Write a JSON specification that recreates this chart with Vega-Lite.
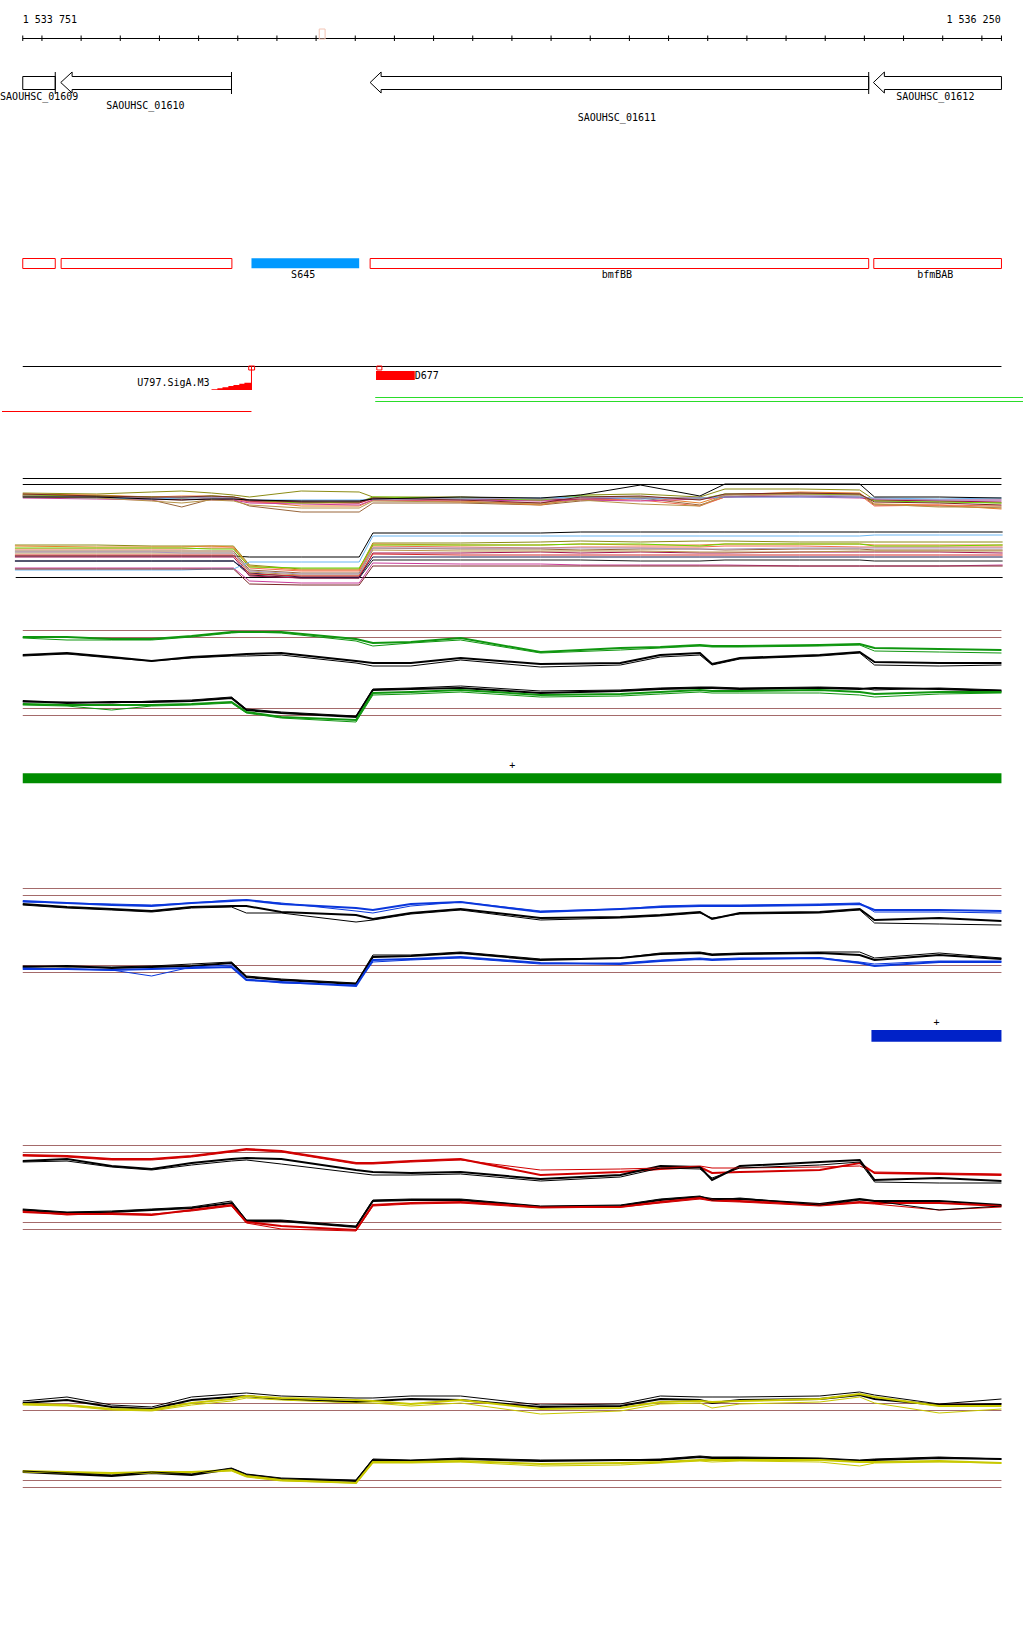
{
"$schema": "https://vega.github.io/schema/vega-lite/v6.json",
"width": 1024, "height": 1640,
"autosize": {"type": "fit", "contains": "padding"},
"padding": 0,
"background": "white",
"config": {"view": {"stroke": null}},
"encoding": {
 "x": {"field": "x", "type": "quantitative", "scale": {"domain": [1533698, 1536305], "nice": false, "zero": false}, "axis": null},
 "y": {"field": "y", "type": "quantitative", "scale": {"domain": [0, 1640], "reverse": true, "nice": false, "zero": false}, "axis": null}
},
"layer": [
{
 "data": {"values": [
  {"x":1533751,"x2":1536250,"y":38.5,"k":"axis"},
  {"x":1533751,"x2":1536250,"y":366.5,"k":"axis"},
  {"x":1533751,"x2":1536250,"y":478.5,"k":"axis"},
  {"x":1533751,"x2":1536250,"y":484.5,"k":"axis"},
  {"x":1533733,"x2":1536253,"y":577.5,"k":"axis"},
  {"x":1533698,"x2":1534335,"y":411.5,"k":"sig"},
  {"x":1534651,"x2":1536305,"y":397.5,"k":"term"},
  {"x":1534651,"x2":1536305,"y":401.5,"k":"term"},
  {"x":1533751,"x2":1536250,"y":630.5,"k":"thr"},
  {"x":1533751,"x2":1536250,"y":637.5,"k":"thr"},
  {"x":1533751,"x2":1536250,"y":708.5,"k":"thr"},
  {"x":1533751,"x2":1536250,"y":715.5,"k":"thr"},
  {"x":1533751,"x2":1536250,"y":888.5,"k":"thr"},
  {"x":1533751,"x2":1536250,"y":895.5,"k":"thr"},
  {"x":1533751,"x2":1536250,"y":965.5,"k":"thr"},
  {"x":1533751,"x2":1536250,"y":972.5,"k":"thr"},
  {"x":1533751,"x2":1536250,"y":1145.5,"k":"thr"},
  {"x":1533751,"x2":1536250,"y":1152.5,"k":"thr"},
  {"x":1533751,"x2":1536250,"y":1222.5,"k":"thr"},
  {"x":1533751,"x2":1536250,"y":1229.5,"k":"thr"},
  {"x":1533751,"x2":1536250,"y":1403.5,"k":"thr"},
  {"x":1533751,"x2":1536250,"y":1410.5,"k":"thr"},
  {"x":1533751,"x2":1536250,"y":1480.5,"k":"thr"},
  {"x":1533751,"x2":1536250,"y":1487.5,"k":"thr"}
 ]},
 "mark": {"type": "rule", "strokeWidth": 1},
 "encoding": {
  "x2": {"field": "x2"},
  "stroke": {"field": "k", "type": "nominal", "scale": {"domain": ["axis","thr","sig","term","feat","cur"], "range": ["#000000","#A46A6A","#FF0000","#2ADC2A","#FF0000","#F2C4B4"]}, "legend": null}
 }
},
{
 "data": {"values": "x,y,y2,k\n1533751,35.5,41,axis\n1533800,35.5,41,axis\n1533900,35.5,41,axis\n1534000,35.5,41,axis\n1534100,35.5,41,axis\n1534200,35.5,41,axis\n1534300,35.5,41,axis\n1534400,35.5,41,axis\n1534500,35.5,41,axis\n1534600,35.5,41,axis\n1534700,35.5,41,axis\n1534800,35.5,41,axis\n1534900,35.5,41,axis\n1535000,35.5,41,axis\n1535100,35.5,41,axis\n1535200,35.5,41,axis\n1535300,35.5,41,axis\n1535400,35.5,41,axis\n1535500,35.5,41,axis\n1535600,35.5,41,axis\n1535700,35.5,41,axis\n1535800,35.5,41,axis\n1535900,35.5,41,axis\n1536000,35.5,41,axis\n1536100,35.5,41,axis\n1536200,35.5,41,axis\n1536250,35.5,41,axis\n1533834,72,94,axis\n1534284,72,94,axis\n1535911,72,94,axis\n1534335,366,390,sig", "format": {"type": "csv", "parse": {"x": "number", "y": "number", "y2": "number"}}},
 "mark": {"type": "rule", "strokeWidth": 1},
 "encoding": {
  "y2": {"field": "y2"},
  "stroke": {"field": "k", "type": "nominal", "scale": {"domain": ["axis","thr","sig","term","feat","cur"], "range": ["#000000","#A46A6A","#FF0000","#2ADC2A","#FF0000","#F2C4B4"]}, "legend": null}
 }
},
{
 "data": {"values": "n,o,x,y\nSAOUHSC_01609,0,1533751,76.5\nSAOUHSC_01609,1,1533834,76.5\nSAOUHSC_01609,2,1533834,89.5\nSAOUHSC_01609,3,1533751,89.5\nSAOUHSC_01609,4,1533751,76.5\nSAOUHSC_01610,0,1533848,82.5\nSAOUHSC_01610,1,1533877,72\nSAOUHSC_01610,2,1533877,76.5\nSAOUHSC_01610,3,1534284,76.5\nSAOUHSC_01610,4,1534284,89.5\nSAOUHSC_01610,5,1533877,89.5\nSAOUHSC_01610,6,1533877,93\nSAOUHSC_01610,7,1533848,82.5\nSAOUHSC_01611,0,1534638,82.5\nSAOUHSC_01611,1,1534666,72\nSAOUHSC_01611,2,1534666,76.5\nSAOUHSC_01611,3,1535911,76.5\nSAOUHSC_01611,4,1535911,89.5\nSAOUHSC_01611,5,1534666,89.5\nSAOUHSC_01611,6,1534666,93\nSAOUHSC_01611,7,1534638,82.5\nSAOUHSC_01612,0,1535923,82.5\nSAOUHSC_01612,1,1535951,72\nSAOUHSC_01612,2,1535951,76.5\nSAOUHSC_01612,3,1536250,76.5\nSAOUHSC_01612,4,1536250,89.5\nSAOUHSC_01612,5,1535951,89.5\nSAOUHSC_01612,6,1535951,93\nSAOUHSC_01612,7,1535923,82.5", "format": {"type": "csv", "parse": {"o": "number", "x": "number", "y": "number"}}},
 "mark": {"type": "line", "color": "#000000", "strokeWidth": 1},
 "encoding": {"detail": {"field": "n"}, "order": {"field": "o", "type": "quantitative"}}
},
{
 "data": {"values": "s,g,x,y\nu,m1,1533751,493\nu,m1,1533940,494\nu,m1,1534080,492\nu,m1,1534157,491\nu,m1,1534233,493\nu,m1,1534289,495\nu,m1,1534330,497\nu,m1,1534462,491\nu,m1,1534610,492\nu,m1,1534645,497\nu,m1,1534869,497\nu,m1,1535073,499\nu,m1,1535175,495\nu,m1,1535328,494\nu,m1,1535480,497\nu,m1,1535544,489\nu,m1,1535735,489\nu,m1,1535888,490\nu,m1,1535926,500\nu,m1,1536091,501\nu,m1,1536250,503\nu,m2,1533751,495\nu,m2,1533940,496\nu,m2,1534080,500\nu,m2,1534157,507\nu,m2,1534233,499\nu,m2,1534289,500\nu,m2,1534330,506\nu,m2,1534462,512\nu,m2,1534610,512\nu,m2,1534645,503\nu,m2,1534869,503\nu,m2,1535073,505\nu,m2,1535175,501\nu,m2,1535328,498\nu,m2,1535480,505\nu,m2,1535544,497\nu,m2,1535735,493\nu,m2,1535888,494\nu,m2,1535926,505\nu,m2,1536091,506\nu,m2,1536250,508\nu,m3,1533751,494\nu,m3,1533940,495\nu,m3,1534080,497\nu,m3,1534157,496\nu,m3,1534233,496\nu,m3,1534289,497\nu,m3,1534330,501\nu,m3,1534462,506\nu,m3,1534610,506\nu,m3,1534645,500\nu,m3,1534869,501\nu,m3,1535073,505\nu,m3,1535175,498\nu,m3,1535328,497\nu,m3,1535480,503\nu,m3,1535544,495\nu,m3,1535735,492\nu,m3,1535888,493\nu,m3,1535926,504\nu,m3,1536091,505\nu,m3,1536250,509\nu,m4,1533751,496\nu,m4,1533940,497\nu,m4,1534080,499\nu,m4,1534157,500\nu,m4,1534233,498\nu,m4,1534289,499\nu,m4,1534330,502\nu,m4,1534462,503\nu,m4,1534610,503\nu,m4,1534645,499\nu,m4,1534869,502\nu,m4,1535073,503\nu,m4,1535175,499\nu,m4,1535328,500\nu,m4,1535480,506\nu,m4,1535544,497\nu,m4,1535735,494\nu,m4,1535888,495\nu,m4,1535926,506\nu,m4,1536091,505\nu,m4,1536250,506\nu,m5,1533751,498\nu,m5,1533940,499\nu,m5,1534080,500\nu,m5,1534157,499\nu,m5,1534233,500\nu,m5,1534289,500\nu,m5,1534330,503\nu,m5,1534462,504\nu,m5,1534610,505\nu,m5,1534645,500\nu,m5,1534869,500\nu,m5,1535073,501\nu,m5,1535175,500\nu,m5,1535328,501\nu,m5,1535480,499\nu,m5,1535544,497\nu,m5,1535735,497\nu,m5,1535888,498\nu,m5,1535926,499\nu,m5,1536091,500\nu,m5,1536250,500\nu,m6,1533751,496\nu,m6,1533940,497\nu,m6,1534080,498\nu,m6,1534157,498\nu,m6,1534233,497\nu,m6,1534289,498\nu,m6,1534330,501\nu,m6,1534462,502\nu,m6,1534610,503\nu,m6,1534645,498\nu,m6,1534869,499\nu,m6,1535073,500\nu,m6,1535175,499\nu,m6,1535328,498\nu,m6,1535480,498\nu,m6,1535544,497\nu,m6,1535735,496\nu,m6,1535888,497\nu,m6,1535926,500\nu,m6,1536091,501\nu,m6,1536250,502\nu,m7,1533751,495\nu,m7,1533940,496\nu,m7,1534080,497\nu,m7,1534157,498\nu,m7,1534233,496\nu,m7,1534289,497\nu,m7,1534330,500\nu,m7,1534462,503\nu,m7,1534610,502\nu,m7,1534645,497\nu,m7,1534869,498\nu,m7,1535073,500\nu,m7,1535175,496\nu,m7,1535328,497\nu,m7,1535480,499\nu,m7,1535544,494\nu,m7,1535735,494\nu,m7,1535888,495\nu,m7,1535926,501\nu,m7,1536091,502\nu,m7,1536250,503\nu,m8,1533751,497\nu,m8,1533940,498\nu,m8,1534080,499\nu,m8,1534157,498\nu,m8,1534233,498\nu,m8,1534289,498\nu,m8,1534330,500\nu,m8,1534462,500\nu,m8,1534610,500\nu,m8,1534645,499\nu,m8,1534869,499\nu,m8,1535073,498\nu,m8,1535175,497\nu,m8,1535328,499\nu,m8,1535480,498\nu,m8,1535544,497\nu,m8,1535735,497\nu,m8,1535888,497\nu,m8,1535926,498\nu,m8,1536091,499\nu,m8,1536250,498\nu,m9,1533751,496\nu,m9,1533940,497\nu,m9,1534080,498\nu,m9,1534157,497\nu,m9,1534233,497\nu,m9,1534289,498\nu,m9,1534330,500\nu,m9,1534462,501\nu,m9,1534610,501\nu,m9,1534645,499\nu,m9,1534869,498\nu,m9,1535073,499\nu,m9,1535175,498\nu,m9,1535328,497\nu,m9,1535480,499\nu,m9,1535544,495\nu,m9,1535735,495\nu,m9,1535888,496\nu,m9,1535926,499\nu,m9,1536091,500\nu,m9,1536250,500\nu,m10,1533751,497\nu,m10,1533940,498\nu,m10,1534080,501\nu,m10,1534157,503\nu,m10,1534233,500\nu,m10,1534289,501\nu,m10,1534330,505\nu,m10,1534462,508\nu,m10,1534610,508\nu,m10,1534645,501\nu,m10,1534869,502\nu,m10,1535073,504\nu,m10,1535175,500\nu,m10,1535328,504\nu,m10,1535480,506\nu,m10,1535544,495\nu,m10,1535735,494\nu,m10,1535888,494\nu,m10,1535926,504\nu,m10,1536091,507\nu,m10,1536250,507\nu,m11,1533751,494\nu,m11,1533940,496\nu,m11,1534080,497\nu,m11,1534157,497\nu,m11,1534233,496\nu,m11,1534289,497\nu,m11,1534330,500\nu,m11,1534462,502\nu,m11,1534610,502\nu,m11,1534645,498\nu,m11,1534869,500\nu,m11,1535073,503\nu,m11,1535175,497\nu,m11,1535328,496\nu,m11,1535480,500\nu,m11,1535544,494\nu,m11,1535735,493\nu,m11,1535888,494\nu,m11,1535926,502\nu,m11,1536091,503\nu,m11,1536250,505\nu,m12,1533751,497\nu,m12,1533940,497\nu,m12,1534080,499\nu,m12,1534157,500\nu,m12,1534233,499\nu,m12,1534289,499\nu,m12,1534330,500\nu,m12,1534462,501\nu,m12,1534610,501\nu,m12,1534645,499\nu,m12,1534869,497\nu,m12,1535073,498\nu,m12,1535175,495\nu,m12,1535328,485\nu,m12,1535480,496\nu,m12,1535544,484\nu,m12,1535735,484\nu,m12,1535888,484\nu,m12,1535926,497\nu,m12,1536091,497\nu,m12,1536250,498\nl,m12,1533731,556\nl,m12,1533940,556\nl,m12,1534080,556\nl,m12,1534157,556\nl,m12,1534233,556\nl,m12,1534289,556\nl,m12,1534330,557\nl,m12,1534462,557\nl,m12,1534610,557\nl,m12,1534645,533\nl,m12,1534869,533\nl,m12,1535073,533\nl,m12,1535175,532\nl,m12,1535328,532\nl,m12,1535480,532\nl,m12,1535544,532\nl,m12,1535735,532\nl,m12,1535888,532\nl,m12,1535926,532\nl,m12,1536091,532\nl,m12,1536253,532\nl,m13,1533731,561\nl,m13,1533940,561\nl,m13,1534080,561\nl,m13,1534157,561\nl,m13,1534233,561\nl,m13,1534289,561\nl,m13,1534330,575\nl,m13,1534462,578\nl,m13,1534610,578\nl,m13,1534645,560\nl,m13,1534869,560\nl,m13,1535073,560\nl,m13,1535175,560\nl,m13,1535328,561\nl,m13,1535480,561\nl,m13,1535544,560\nl,m13,1535735,560\nl,m13,1535888,560\nl,m13,1535926,561\nl,m13,1536091,561\nl,m13,1536253,561\nl,m1,1533731,545\nl,m1,1533940,545\nl,m1,1534080,546\nl,m1,1534157,546\nl,m1,1534233,546\nl,m1,1534289,546\nl,m1,1534330,565\nl,m1,1534462,569\nl,m1,1534610,569\nl,m1,1534645,543\nl,m1,1534869,543\nl,m1,1535073,542\nl,m1,1535175,541\nl,m1,1535328,542\nl,m1,1535480,541\nl,m1,1535544,541\nl,m1,1535735,542\nl,m1,1535888,542\nl,m1,1535926,542\nl,m1,1536091,542\nl,m1,1536253,542\nl,m3,1533731,546\nl,m3,1533940,547\nl,m3,1534080,547\nl,m3,1534157,547\nl,m3,1534233,546\nl,m3,1534289,547\nl,m3,1534330,566\nl,m3,1534462,570\nl,m3,1534610,570\nl,m3,1534645,544\nl,m3,1534869,545\nl,m3,1535073,545\nl,m3,1535175,544\nl,m3,1535328,545\nl,m3,1535480,545\nl,m3,1535544,544\nl,m3,1535735,544\nl,m3,1535888,544\nl,m3,1535926,545\nl,m3,1536091,545\nl,m3,1536253,545\nl,m4,1533731,549\nl,m4,1533940,549\nl,m4,1534080,549\nl,m4,1534157,549\nl,m4,1534233,548\nl,m4,1534289,548\nl,m4,1534330,568\nl,m4,1534462,571\nl,m4,1534610,571\nl,m4,1534645,546\nl,m4,1534869,547\nl,m4,1535073,548\nl,m4,1535175,547\nl,m4,1535328,547\nl,m4,1535480,547\nl,m4,1535544,546\nl,m4,1535735,546\nl,m4,1535888,547\nl,m4,1535926,547\nl,m4,1536091,547\nl,m4,1536253,547\nl,m2,1533731,551\nl,m2,1533940,551\nl,m2,1534080,551\nl,m2,1534157,551\nl,m2,1534233,551\nl,m2,1534289,551\nl,m2,1534330,570\nl,m2,1534462,573\nl,m2,1534610,573\nl,m2,1534645,548\nl,m2,1534869,549\nl,m2,1535073,549\nl,m2,1535175,550\nl,m2,1535328,549\nl,m2,1535480,549\nl,m2,1535544,550\nl,m2,1535735,549\nl,m2,1535888,549\nl,m2,1535926,550\nl,m2,1536091,550\nl,m2,1536253,550\nl,m7,1533731,548\nl,m7,1533940,548\nl,m7,1534080,548\nl,m7,1534157,548\nl,m7,1534233,549\nl,m7,1534289,549\nl,m7,1534330,567\nl,m7,1534462,568\nl,m7,1534610,568\nl,m7,1534645,545\nl,m7,1534869,545\nl,m7,1535073,545\nl,m7,1535175,544\nl,m7,1535328,544\nl,m7,1535480,546\nl,m7,1535544,544\nl,m7,1535735,544\nl,m7,1535888,544\nl,m7,1535926,546\nl,m7,1536091,546\nl,m7,1536253,545\nl,m6,1533731,557\nl,m6,1533940,557\nl,m6,1534080,557\nl,m6,1534157,557\nl,m6,1534233,557\nl,m6,1534289,557\nl,m6,1534330,576\nl,m6,1534462,578\nl,m6,1534610,578\nl,m6,1534645,553\nl,m6,1534869,553\nl,m6,1535073,552\nl,m6,1535175,553\nl,m6,1535328,552\nl,m6,1535480,553\nl,m6,1535544,553\nl,m6,1535735,552\nl,m6,1535888,552\nl,m6,1535926,552\nl,m6,1536091,552\nl,m6,1536253,553\nl,m5,1533731,568\nl,m5,1533940,568\nl,m5,1534080,568\nl,m5,1534157,568\nl,m5,1534233,568\nl,m5,1534289,568\nl,m5,1534330,581\nl,m5,1534462,583\nl,m5,1534610,583\nl,m5,1534645,563\nl,m5,1534869,564\nl,m5,1535073,564\nl,m5,1535175,565\nl,m5,1535328,565\nl,m5,1535480,565\nl,m5,1535544,565\nl,m5,1535735,566\nl,m5,1535888,566\nl,m5,1535926,566\nl,m5,1536091,566\nl,m5,1536253,565\nl,m8,1533731,570\nl,m8,1533940,570\nl,m8,1534080,570\nl,m8,1534157,570\nl,m8,1534233,569\nl,m8,1534289,569\nl,m8,1534330,562\nl,m8,1534462,562\nl,m8,1534610,562\nl,m8,1534645,536\nl,m8,1534869,536\nl,m8,1535073,536\nl,m8,1535175,536\nl,m8,1535328,536\nl,m8,1535480,536\nl,m8,1535544,536\nl,m8,1535735,536\nl,m8,1535888,536\nl,m8,1535926,535\nl,m8,1536091,535\nl,m8,1536253,535\nl,m14,1533731,561\nl,m14,1533940,561\nl,m14,1534080,561\nl,m14,1534157,561\nl,m14,1534233,561\nl,m14,1534289,561\nl,m14,1534330,573\nl,m14,1534462,577\nl,m14,1534610,577\nl,m14,1534645,557\nl,m14,1534869,557\nl,m14,1535073,557\nl,m14,1535175,557\nl,m14,1535328,557\nl,m14,1535480,557\nl,m14,1535544,557\nl,m14,1535735,557\nl,m14,1535888,557\nl,m14,1535926,557\nl,m14,1536091,557\nl,m14,1536253,557\nl,m10,1533731,553\nl,m10,1533940,553\nl,m10,1534080,553\nl,m10,1534157,553\nl,m10,1534233,553\nl,m10,1534289,553\nl,m10,1534330,572\nl,m10,1534462,575\nl,m10,1534610,575\nl,m10,1534645,550\nl,m10,1534869,551\nl,m10,1535073,551\nl,m10,1535175,551\nl,m10,1535328,551\nl,m10,1535480,552\nl,m10,1535544,552\nl,m10,1535735,552\nl,m10,1535888,551\nl,m10,1535926,551\nl,m10,1536091,551\nl,m10,1536253,551\nl,m15,1533731,555\nl,m15,1533940,555\nl,m15,1534080,555\nl,m15,1534157,555\nl,m15,1534233,555\nl,m15,1534289,555\nl,m15,1534330,574\nl,m15,1534462,576\nl,m15,1534610,576\nl,m15,1534645,554\nl,m15,1534869,555\nl,m15,1535073,555\nl,m15,1535175,555\nl,m15,1535328,555\nl,m15,1535480,555\nl,m15,1535544,555\nl,m15,1535735,555\nl,m15,1535888,555\nl,m15,1535926,555\nl,m15,1536091,555\nl,m15,1536253,555\nl,m9,1533731,552\nl,m9,1533940,552\nl,m9,1534080,552\nl,m9,1534157,553\nl,m9,1534233,553\nl,m9,1534289,553\nl,m9,1534330,571\nl,m9,1534462,574\nl,m9,1534610,574\nl,m9,1534645,548\nl,m9,1534869,548\nl,m9,1535073,548\nl,m9,1535175,548\nl,m9,1535328,548\nl,m9,1535480,549\nl,m9,1535544,549\nl,m9,1535735,548\nl,m9,1535888,548\nl,m9,1535926,548\nl,m9,1536091,548\nl,m9,1536253,548\nl,m11,1533731,569\nl,m11,1533940,569\nl,m11,1534080,569\nl,m11,1534157,569\nl,m11,1534233,569\nl,m11,1534289,569\nl,m11,1534330,584\nl,m11,1534462,585\nl,m11,1534610,585\nl,m11,1534645,566\nl,m11,1534869,566\nl,m11,1535073,566\nl,m11,1535175,566\nl,m11,1535328,566\nl,m11,1535480,566\nl,m11,1535544,566\nl,m11,1535735,566\nl,m11,1535888,566\nl,m11,1535926,566\nl,m11,1536091,566\nl,m11,1536253,566", "format": {"type": "csv", "parse": {"x": "number", "y": "number"}}},
 "mark": {"type": "line", "strokeWidth": 1},
 "encoding": {
  "detail": {"field": "s"},
  "color": {"field": "g", "type": "nominal", "scale": {"domain": ["m1","m2","m3","m4","m5","m6","m7","m8","m9","m10","m11","m12","m13","m14","m15","ref","A","B","C","D"], "range": ["#8C8C14","#99663A","#E8802A","#F26B4F","#C83C9A","#A0104E","#6CD400","#6AB6F2","#A898C0","#B89448","#7A2626","#000000","#1E1E1E","#1A1A50","#D82828","#000000","#0F960F","#0A37DC","#D00000","#C8C800"]}, "legend": null}
 }
},
{
 "data": {"values": "s,g,r,x,y\nAu,A,1,1533751,637\nAu,A,1,1533864,637\nAu,A,1,1533978,639\nAu,A,1,1534080,639\nAu,A,1,1534182,636\nAu,A,1,1534284,632\nAu,A,1,1534322,632\nAu,A,1,1534411,632\nAu,A,1,1534602,639\nAu,A,1,1534645,643\nAu,A,1,1534742,642\nAu,A,1,1534869,638\nAu,A,1,1535073,652\nAu,A,1,1535277,648\nAu,A,1,1535379,647\nAu,A,1,1535480,645\nAu,A,1,1535511,646\nAu,A,1,1535582,646\nAu,A,1,1535786,645\nAu,A,1,1535888,644\nAu,A,1,1535926,648\nAu,A,1,1536091,649\nAu,A,1,1536250,650\nAu,ref,1,1533751,655\nAu,ref,1,1533864,653\nAu,ref,1,1533978,657\nAu,ref,1,1534080,661\nAu,ref,1,1534182,657\nAu,ref,1,1534284,655\nAu,ref,1,1534322,654\nAu,ref,1,1534411,653\nAu,ref,1,1534602,661\nAu,ref,1,1534645,663\nAu,ref,1,1534742,663\nAu,ref,1,1534869,658\nAu,ref,1,1535073,664\nAu,ref,1,1535277,663\nAu,ref,1,1535379,655\nAu,ref,1,1535480,653\nAu,ref,1,1535511,664\nAu,ref,1,1535582,658\nAu,ref,1,1535786,655\nAu,ref,1,1535888,652\nAu,ref,1,1535926,662\nAu,ref,1,1536091,663\nAu,ref,1,1536250,663\nAl,ref,1,1533751,701\nAl,ref,1,1533864,703\nAl,ref,1,1533978,702\nAl,ref,1,1534080,702\nAl,ref,1,1534182,701\nAl,ref,1,1534284,698\nAl,ref,1,1534322,710\nAl,ref,1,1534411,713\nAl,ref,1,1534602,717\nAl,ref,1,1534645,690\nAl,ref,1,1534742,689\nAl,ref,1,1534869,688\nAl,ref,1,1535073,693\nAl,ref,1,1535277,691\nAl,ref,1,1535379,689\nAl,ref,1,1535480,688\nAl,ref,1,1535511,688\nAl,ref,1,1535582,689\nAl,ref,1,1535786,688\nAl,ref,1,1535888,689\nAl,ref,1,1535926,688\nAl,ref,1,1536091,689\nAl,ref,1,1536250,691\nAl,A,1,1533751,704\nAl,A,1,1533864,705\nAl,A,1,1533978,705\nAl,A,1,1534080,705\nAl,A,1,1534182,704\nAl,A,1,1534284,702\nAl,A,1,1534322,712\nAl,A,1,1534411,717\nAl,A,1,1534602,720\nAl,A,1,1534645,693\nAl,A,1,1534742,692\nAl,A,1,1534869,690\nAl,A,1,1535073,695\nAl,A,1,1535277,694\nAl,A,1,1535379,692\nAl,A,1,1535480,690\nAl,A,1,1535511,691\nAl,A,1,1535582,691\nAl,A,1,1535786,690\nAl,A,1,1535888,692\nAl,A,1,1535926,694\nAl,A,1,1536091,692\nAl,A,1,1536250,692\nAu,A,2,1533751,638\nAu,A,2,1533864,640\nAu,A,2,1533978,640\nAu,A,2,1534080,640\nAu,A,2,1534182,637\nAu,A,2,1534284,633\nAu,A,2,1534322,632\nAu,A,2,1534411,633\nAu,A,2,1534602,641\nAu,A,2,1534645,646\nAu,A,2,1534742,643\nAu,A,2,1534869,640\nAu,A,2,1535073,653\nAu,A,2,1535277,650\nAu,A,2,1535379,648\nAu,A,2,1535480,646\nAu,A,2,1535511,647\nAu,A,2,1535582,647\nAu,A,2,1535786,646\nAu,A,2,1535888,645\nAu,A,2,1535926,651\nAu,A,2,1536091,652\nAu,A,2,1536250,653\nAu,ref,2,1533751,656\nAu,ref,2,1533864,654\nAu,ref,2,1533978,658\nAu,ref,2,1534080,661\nAu,ref,2,1534182,658\nAu,ref,2,1534284,656\nAu,ref,2,1534322,656\nAu,ref,2,1534411,655\nAu,ref,2,1534602,663\nAu,ref,2,1534645,666\nAu,ref,2,1534742,666\nAu,ref,2,1534869,660\nAu,ref,2,1535073,667\nAu,ref,2,1535277,665\nAu,ref,2,1535379,657\nAu,ref,2,1535480,655\nAu,ref,2,1535511,665\nAu,ref,2,1535582,659\nAu,ref,2,1535786,656\nAu,ref,2,1535888,653\nAu,ref,2,1535926,665\nAu,ref,2,1536091,666\nAu,ref,2,1536250,665\nAl,A,2,1533751,705\nAl,A,2,1533864,706\nAl,A,2,1533978,710\nAl,A,2,1534080,706\nAl,A,2,1534182,705\nAl,A,2,1534284,703\nAl,A,2,1534322,713\nAl,A,2,1534411,718\nAl,A,2,1534602,722\nAl,A,2,1534645,695\nAl,A,2,1534742,694\nAl,A,2,1534869,692\nAl,A,2,1535073,697\nAl,A,2,1535277,696\nAl,A,2,1535379,694\nAl,A,2,1535480,692\nAl,A,2,1535511,693\nAl,A,2,1535582,693\nAl,A,2,1535786,693\nAl,A,2,1535888,695\nAl,A,2,1535926,697\nAl,A,2,1536091,694\nAl,A,2,1536250,693\nAl,ref,2,1533751,702\nAl,ref,2,1533864,702\nAl,ref,2,1533978,703\nAl,ref,2,1534080,701\nAl,ref,2,1534182,700\nAl,ref,2,1534284,697\nAl,ref,2,1534322,709\nAl,ref,2,1534411,712\nAl,ref,2,1534602,716\nAl,ref,2,1534645,689\nAl,ref,2,1534742,688\nAl,ref,2,1534869,686\nAl,ref,2,1535073,691\nAl,ref,2,1535277,690\nAl,ref,2,1535379,688\nAl,ref,2,1535480,687\nAl,ref,2,1535511,687\nAl,ref,2,1535582,688\nAl,ref,2,1535786,687\nAl,ref,2,1535888,688\nAl,ref,2,1535926,690\nAl,ref,2,1536091,688\nAl,ref,2,1536250,690\nBu,B,1,1533751,901\nBu,B,1,1533864,903\nBu,B,1,1533978,905\nBu,B,1,1534080,906\nBu,B,1,1534182,903\nBu,B,1,1534284,901\nBu,B,1,1534322,900\nBu,B,1,1534411,904\nBu,B,1,1534602,908\nBu,B,1,1534645,910\nBu,B,1,1534742,904\nBu,B,1,1534869,902\nBu,B,1,1535073,912\nBu,B,1,1535277,909\nBu,B,1,1535379,907\nBu,B,1,1535480,906\nBu,B,1,1535511,906\nBu,B,1,1535582,906\nBu,B,1,1535786,905\nBu,B,1,1535888,904\nBu,B,1,1535926,910\nBu,B,1,1536091,910\nBu,B,1,1536250,911\nBu,ref,1,1533751,904\nBu,ref,1,1533864,907\nBu,ref,1,1533978,909\nBu,ref,1,1534080,911\nBu,ref,1,1534182,907\nBu,ref,1,1534284,906\nBu,ref,1,1534322,906\nBu,ref,1,1534411,912\nBu,ref,1,1534602,915\nBu,ref,1,1534645,919\nBu,ref,1,1534742,913\nBu,ref,1,1534869,909\nBu,ref,1,1535073,918\nBu,ref,1,1535277,917\nBu,ref,1,1535379,915\nBu,ref,1,1535480,912\nBu,ref,1,1535511,919\nBu,ref,1,1535582,913\nBu,ref,1,1535786,912\nBu,ref,1,1535888,909\nBu,ref,1,1535926,920\nBu,ref,1,1536091,918\nBu,ref,1,1536250,921\nBl,ref,1,1533751,967\nBl,ref,1,1533864,966\nBl,ref,1,1533978,968\nBl,ref,1,1534080,967\nBl,ref,1,1534182,966\nBl,ref,1,1534284,963\nBl,ref,1,1534322,977\nBl,ref,1,1534411,980\nBl,ref,1,1534602,984\nBl,ref,1,1534645,957\nBl,ref,1,1534742,956\nBl,ref,1,1534869,953\nBl,ref,1,1535073,960\nBl,ref,1,1535277,958\nBl,ref,1,1535379,954\nBl,ref,1,1535480,953\nBl,ref,1,1535511,955\nBl,ref,1,1535582,954\nBl,ref,1,1535786,953\nBl,ref,1,1535888,955\nBl,ref,1,1535926,960\nBl,ref,1,1536091,955\nBl,ref,1,1536250,959\nBl,B,1,1533751,969\nBl,B,1,1533864,969\nBl,B,1,1533978,970\nBl,B,1,1534080,969\nBl,B,1,1534182,968\nBl,B,1,1534284,967\nBl,B,1,1534322,980\nBl,B,1,1534411,982\nBl,B,1,1534602,986\nBl,B,1,1534645,960\nBl,B,1,1534742,959\nBl,B,1,1534869,957\nBl,B,1,1535073,963\nBl,B,1,1535277,964\nBl,B,1,1535379,961\nBl,B,1,1535480,959\nBl,B,1,1535511,960\nBl,B,1,1535582,959\nBl,B,1,1535786,958\nBl,B,1,1535888,963\nBl,B,1,1535926,966\nBl,B,1,1536091,962\nBl,B,1,1536250,962\nBu,B,2,1533751,902\nBu,B,2,1533864,903\nBu,B,2,1533978,904\nBu,B,2,1534080,905\nBu,B,2,1534182,903\nBu,B,2,1534284,900\nBu,B,2,1534322,900\nBu,B,2,1534411,903\nBu,B,2,1534602,911\nBu,B,2,1534645,913\nBu,B,2,1534742,906\nBu,B,2,1534869,902\nBu,B,2,1535073,911\nBu,B,2,1535277,909\nBu,B,2,1535379,906\nBu,B,2,1535480,905\nBu,B,2,1535511,905\nBu,B,2,1535582,905\nBu,B,2,1535786,904\nBu,B,2,1535888,903\nBu,B,2,1535926,912\nBu,B,2,1536091,912\nBu,B,2,1536250,913\nBu,ref,2,1533751,905\nBu,ref,2,1533864,908\nBu,ref,2,1533978,910\nBu,ref,2,1534080,912\nBu,ref,2,1534182,908\nBu,ref,2,1534284,907\nBu,ref,2,1534322,913\nBu,ref,2,1534411,913\nBu,ref,2,1534602,922\nBu,ref,2,1534645,920\nBu,ref,2,1534742,914\nBu,ref,2,1534869,910\nBu,ref,2,1535073,920\nBu,ref,2,1535277,918\nBu,ref,2,1535379,916\nBu,ref,2,1535480,913\nBu,ref,2,1535511,918\nBu,ref,2,1535582,914\nBu,ref,2,1535786,913\nBu,ref,2,1535888,910\nBu,ref,2,1535926,923\nBu,ref,2,1536091,924\nBu,ref,2,1536250,925\nBl,B,2,1533751,968\nBl,B,2,1533864,969\nBl,B,2,1533978,970\nBl,B,2,1534080,976\nBl,B,2,1534182,967\nBl,B,2,1534284,965\nBl,B,2,1534322,979\nBl,B,2,1534411,983\nBl,B,2,1534602,985\nBl,B,2,1534645,962\nBl,B,2,1534742,960\nBl,B,2,1534869,958\nBl,B,2,1535073,964\nBl,B,2,1535277,963\nBl,B,2,1535379,960\nBl,B,2,1535480,958\nBl,B,2,1535511,959\nBl,B,2,1535582,958\nBl,B,2,1535786,958\nBl,B,2,1535888,962\nBl,B,2,1535926,964\nBl,B,2,1536091,961\nBl,B,2,1536250,961\nBl,ref,2,1533751,966\nBl,ref,2,1533864,967\nBl,ref,2,1533978,967\nBl,ref,2,1534080,966\nBl,ref,2,1534182,964\nBl,ref,2,1534284,962\nBl,ref,2,1534322,976\nBl,ref,2,1534411,979\nBl,ref,2,1534602,983\nBl,ref,2,1534645,955\nBl,ref,2,1534742,955\nBl,ref,2,1534869,952\nBl,ref,2,1535073,959\nBl,ref,2,1535277,958\nBl,ref,2,1535379,953\nBl,ref,2,1535480,952\nBl,ref,2,1535511,954\nBl,ref,2,1535582,953\nBl,ref,2,1535786,952\nBl,ref,2,1535888,952\nBl,ref,2,1535926,958\nBl,ref,2,1536091,953\nBl,ref,2,1536250,958\nCu,C,1,1533751,1155\nCu,C,1,1533864,1156\nCu,C,1,1533978,1159\nCu,C,1,1534080,1159\nCu,C,1,1534182,1156\nCu,C,1,1534284,1151\nCu,C,1,1534322,1149\nCu,C,1,1534411,1151\nCu,C,1,1534602,1163\nCu,C,1,1534645,1163\nCu,C,1,1534742,1161\nCu,C,1,1534869,1159\nCu,C,1,1535073,1175\nCu,C,1,1535277,1172\nCu,C,1,1535379,1169\nCu,C,1,1535480,1167\nCu,C,1,1535511,1173\nCu,C,1,1535582,1172\nCu,C,1,1535786,1170\nCu,C,1,1535888,1163\nCu,C,1,1535926,1173\nCu,C,1,1536091,1174\nCu,C,1,1536250,1175\nCu,ref,1,1533751,1161\nCu,ref,1,1533864,1159\nCu,ref,1,1533978,1166\nCu,ref,1,1534080,1169\nCu,ref,1,1534182,1163\nCu,ref,1,1534284,1159\nCu,ref,1,1534322,1158\nCu,ref,1,1534411,1159\nCu,ref,1,1534602,1170\nCu,ref,1,1534645,1172\nCu,ref,1,1534742,1173\nCu,ref,1,1534869,1172\nCu,ref,1,1535073,1179\nCu,ref,1,1535277,1175\nCu,ref,1,1535379,1166\nCu,ref,1,1535480,1167\nCu,ref,1,1535511,1180\nCu,ref,1,1535582,1166\nCu,ref,1,1535786,1162\nCu,ref,1,1535888,1160\nCu,ref,1,1535926,1180\nCu,ref,1,1536091,1178\nCu,ref,1,1536250,1181\nCl,ref,1,1533751,1210\nCl,ref,1,1533864,1213\nCl,ref,1,1533978,1212\nCl,ref,1,1534080,1210\nCl,ref,1,1534182,1208\nCl,ref,1,1534284,1203\nCl,ref,1,1534322,1221\nCl,ref,1,1534411,1221\nCl,ref,1,1534602,1227\nCl,ref,1,1534645,1201\nCl,ref,1,1534742,1200\nCl,ref,1,1534869,1200\nCl,ref,1,1535073,1207\nCl,ref,1,1535277,1206\nCl,ref,1,1535379,1200\nCl,ref,1,1535480,1197\nCl,ref,1,1535511,1199\nCl,ref,1,1535582,1199\nCl,ref,1,1535786,1204\nCl,ref,1,1535888,1199\nCl,ref,1,1535926,1201\nCl,ref,1,1536091,1201\nCl,ref,1,1536250,1205\nCl,C,1,1533751,1212\nCl,C,1,1533864,1214\nCl,C,1,1533978,1214\nCl,C,1,1534080,1215\nCl,C,1,1534182,1210\nCl,C,1,1534284,1205\nCl,C,1,1534322,1222\nCl,C,1,1534411,1226\nCl,C,1,1534602,1230\nCl,C,1,1534645,1205\nCl,C,1,1534742,1203\nCl,C,1,1534869,1202\nCl,C,1,1535073,1207\nCl,C,1,1535277,1207\nCl,C,1,1535379,1202\nCl,C,1,1535480,1198\nCl,C,1,1535511,1200\nCl,C,1,1535582,1201\nCl,C,1,1535786,1205\nCl,C,1,1535888,1202\nCl,C,1,1535926,1203\nCl,C,1,1536091,1203\nCl,C,1,1536250,1206\nCu,C,2,1533751,1156\nCu,C,2,1533864,1157\nCu,C,2,1533978,1160\nCu,C,2,1534080,1160\nCu,C,2,1534182,1157\nCu,C,2,1534284,1152\nCu,C,2,1534322,1150\nCu,C,2,1534411,1152\nCu,C,2,1534602,1164\nCu,C,2,1534645,1164\nCu,C,2,1534742,1162\nCu,C,2,1534869,1160\nCu,C,2,1535073,1170\nCu,C,2,1535277,1169\nCu,C,2,1535379,1168\nCu,C,2,1535480,1166\nCu,C,2,1535511,1168\nCu,C,2,1535582,1168\nCu,C,2,1535786,1167\nCu,C,2,1535888,1166\nCu,C,2,1535926,1172\nCu,C,2,1536091,1173\nCu,C,2,1536250,1174\nCu,ref,2,1533751,1162\nCu,ref,2,1533864,1161\nCu,ref,2,1533978,1167\nCu,ref,2,1534080,1170\nCu,ref,2,1534182,1165\nCu,ref,2,1534284,1161\nCu,ref,2,1534322,1160\nCu,ref,2,1534411,1164\nCu,ref,2,1534602,1173\nCu,ref,2,1534645,1175\nCu,ref,2,1534742,1175\nCu,ref,2,1534869,1174\nCu,ref,2,1535073,1181\nCu,ref,2,1535277,1177\nCu,ref,2,1535379,1168\nCu,ref,2,1535480,1169\nCu,ref,2,1535511,1178\nCu,ref,2,1535582,1168\nCu,ref,2,1535786,1165\nCu,ref,2,1535888,1162\nCu,ref,2,1535926,1182\nCu,ref,2,1536091,1183\nCu,ref,2,1536250,1183\nCl,C,2,1533751,1211\nCl,C,2,1533864,1215\nCl,C,2,1533978,1213\nCl,C,2,1534080,1214\nCl,C,2,1534182,1211\nCl,C,2,1534284,1206\nCl,C,2,1534322,1223\nCl,C,2,1534411,1229\nCl,C,2,1534602,1231\nCl,C,2,1534645,1206\nCl,C,2,1534742,1204\nCl,C,2,1534869,1203\nCl,C,2,1535073,1208\nCl,C,2,1535277,1207\nCl,C,2,1535379,1203\nCl,C,2,1535480,1199\nCl,C,2,1535511,1201\nCl,C,2,1535582,1202\nCl,C,2,1535786,1206\nCl,C,2,1535888,1203\nCl,C,2,1535926,1204\nCl,C,2,1536091,1210\nCl,C,2,1536250,1207\nCl,ref,2,1533751,1209\nCl,ref,2,1533864,1212\nCl,ref,2,1533978,1211\nCl,ref,2,1534080,1209\nCl,ref,2,1534182,1207\nCl,ref,2,1534284,1201\nCl,ref,2,1534322,1220\nCl,ref,2,1534411,1220\nCl,ref,2,1534602,1226\nCl,ref,2,1534645,1200\nCl,ref,2,1534742,1199\nCl,ref,2,1534869,1199\nCl,ref,2,1535073,1206\nCl,ref,2,1535277,1205\nCl,ref,2,1535379,1199\nCl,ref,2,1535480,1196\nCl,ref,2,1535511,1200\nCl,ref,2,1535582,1198\nCl,ref,2,1535786,1205\nCl,ref,2,1535888,1200\nCl,ref,2,1535926,1201\nCl,ref,2,1536091,1210\nCl,ref,2,1536250,1206\nDu,ref,1,1533751,1403\nDu,ref,1,1533864,1400\nDu,ref,1,1533978,1407\nDu,ref,1,1534080,1409\nDu,ref,1,1534182,1400\nDu,ref,1,1534284,1397\nDu,ref,1,1534322,1396\nDu,ref,1,1534411,1399\nDu,ref,1,1534602,1402\nDu,ref,1,1534645,1401\nDu,ref,1,1534742,1399\nDu,ref,1,1534869,1400\nDu,ref,1,1535073,1407\nDu,ref,1,1535277,1406\nDu,ref,1,1535379,1399\nDu,ref,1,1535480,1400\nDu,ref,1,1535511,1403\nDu,ref,1,1535582,1400\nDu,ref,1,1535786,1399\nDu,ref,1,1535888,1395\nDu,ref,1,1535926,1399\nDu,ref,1,1536091,1405\nDu,ref,1,1536250,1404\nDu,D,1,1533751,1404\nDu,D,1,1533864,1405\nDu,D,1,1533978,1409\nDu,D,1,1534080,1410\nDu,D,1,1534182,1403\nDu,D,1,1534284,1399\nDu,D,1,1534322,1396\nDu,D,1,1534411,1398\nDu,D,1,1534602,1400\nDu,D,1,1534645,1401\nDu,D,1,1534742,1404\nDu,D,1,1534869,1400\nDu,D,1,1535073,1409\nDu,D,1,1535277,1408\nDu,D,1,1535379,1402\nDu,D,1,1535480,1401\nDu,D,1,1535511,1402\nDu,D,1,1535582,1401\nDu,D,1,1535786,1399\nDu,D,1,1535888,1394\nDu,D,1,1535926,1397\nDu,D,1,1536091,1406\nDu,D,1,1536250,1406\nDl,ref,1,1533751,1472\nDl,ref,1,1533864,1474\nDl,ref,1,1533978,1476\nDl,ref,1,1534080,1473\nDl,ref,1,1534182,1475\nDl,ref,1,1534284,1469\nDl,ref,1,1534322,1475\nDl,ref,1,1534411,1479\nDl,ref,1,1534602,1481\nDl,ref,1,1534645,1460\nDl,ref,1,1534742,1461\nDl,ref,1,1534869,1459\nDl,ref,1,1535073,1461\nDl,ref,1,1535277,1460\nDl,ref,1,1535379,1460\nDl,ref,1,1535480,1457\nDl,ref,1,1535511,1458\nDl,ref,1,1535582,1458\nDl,ref,1,1535786,1459\nDl,ref,1,1535888,1461\nDl,ref,1,1535926,1460\nDl,ref,1,1536091,1458\nDl,ref,1,1536250,1459\nDl,D,1,1533751,1471\nDl,D,1,1533864,1472\nDl,D,1,1533978,1473\nDl,D,1,1534080,1472\nDl,D,1,1534182,1472\nDl,D,1,1534284,1470\nDl,D,1,1534322,1476\nDl,D,1,1534411,1480\nDl,D,1,1534602,1483\nDl,D,1,1534645,1462\nDl,D,1,1534742,1462\nDl,D,1,1534869,1461\nDl,D,1,1535073,1464\nDl,D,1,1535277,1463\nDl,D,1,1535379,1462\nDl,D,1,1535480,1460\nDl,D,1,1535511,1460\nDl,D,1,1535582,1460\nDl,D,1,1535786,1460\nDl,D,1,1535888,1462\nDl,D,1,1535926,1462\nDl,D,1,1536091,1461\nDl,D,1,1536250,1463\nDu,ref,2,1533751,1401\nDu,ref,2,1533864,1397\nDu,ref,2,1533978,1405\nDu,ref,2,1534080,1407\nDu,ref,2,1534182,1397\nDu,ref,2,1534284,1394\nDu,ref,2,1534322,1393\nDu,ref,2,1534411,1396\nDu,ref,2,1534602,1398\nDu,ref,2,1534645,1398\nDu,ref,2,1534742,1396\nDu,ref,2,1534869,1396\nDu,ref,2,1535073,1405\nDu,ref,2,1535277,1404\nDu,ref,2,1535379,1396\nDu,ref,2,1535480,1397\nDu,ref,2,1535511,1397\nDu,ref,2,1535582,1397\nDu,ref,2,1535786,1396\nDu,ref,2,1535888,1392\nDu,ref,2,1535926,1395\nDu,ref,2,1536091,1404\nDu,ref,2,1536250,1399\nDu,D,2,1533751,1405\nDu,D,2,1533864,1406\nDu,D,2,1533978,1410\nDu,D,2,1534080,1411\nDu,D,2,1534182,1405\nDu,D,2,1534284,1401\nDu,D,2,1534322,1398\nDu,D,2,1534411,1400\nDu,D,2,1534602,1403\nDu,D,2,1534645,1403\nDu,D,2,1534742,1406\nDu,D,2,1534869,1403\nDu,D,2,1535073,1414\nDu,D,2,1535277,1411\nDu,D,2,1535379,1404\nDu,D,2,1535480,1403\nDu,D,2,1535511,1408\nDu,D,2,1535582,1404\nDu,D,2,1535786,1402\nDu,D,2,1535888,1397\nDu,D,2,1535926,1403\nDu,D,2,1536091,1413\nDu,D,2,1536250,1409\nDl,D,2,1533751,1472\nDl,D,2,1533864,1473\nDl,D,2,1533978,1474\nDl,D,2,1534080,1473\nDl,D,2,1534182,1473\nDl,D,2,1534284,1471\nDl,D,2,1534322,1477\nDl,D,2,1534411,1481\nDl,D,2,1534602,1483\nDl,D,2,1534645,1463\nDl,D,2,1534742,1463\nDl,D,2,1534869,1462\nDl,D,2,1535073,1466\nDl,D,2,1535277,1465\nDl,D,2,1535379,1463\nDl,D,2,1535480,1461\nDl,D,2,1535511,1462\nDl,D,2,1535582,1461\nDl,D,2,1535786,1462\nDl,D,2,1535888,1466\nDl,D,2,1535926,1463\nDl,D,2,1536091,1462\nDl,D,2,1536250,1463\nDl,ref,2,1533751,1471\nDl,ref,2,1533864,1473\nDl,ref,2,1533978,1475\nDl,ref,2,1534080,1472\nDl,ref,2,1534182,1474\nDl,ref,2,1534284,1468\nDl,ref,2,1534322,1474\nDl,ref,2,1534411,1478\nDl,ref,2,1534602,1480\nDl,ref,2,1534645,1459\nDl,ref,2,1534742,1460\nDl,ref,2,1534869,1458\nDl,ref,2,1535073,1460\nDl,ref,2,1535277,1460\nDl,ref,2,1535379,1459\nDl,ref,2,1535480,1456\nDl,ref,2,1535511,1457\nDl,ref,2,1535582,1457\nDl,ref,2,1535786,1458\nDl,ref,2,1535888,1460\nDl,ref,2,1535926,1459\nDl,ref,2,1536091,1457\nDl,ref,2,1536250,1459", "format": {"type": "csv", "parse": {"x": "number", "y": "number"}}},
 "mark": {"type": "line"},
 "encoding": {
  "detail": {"field": "s"},
  "color": {"field": "g", "type": "nominal", "scale": {"domain": ["m1","m2","m3","m4","m5","m6","m7","m8","m9","m10","m11","m12","m13","m14","m15","ref","A","B","C","D"], "range": ["#8C8C14","#99663A","#E8802A","#F26B4F","#C83C9A","#A0104E","#6CD400","#6AB6F2","#A898C0","#B89448","#7A2626","#000000","#1E1E1E","#1A1A50","#D82828","#000000","#0F960F","#0A37DC","#D00000","#C8C800"]}, "legend": null},
  "strokeWidth": {"field": "r", "type": "ordinal", "scale": {"domain": ["1","2"], "range": [2, 1]}, "legend": null}
 }
},
{
 "data": {"values": [
  {"x":1534233,"y":389.3},{"x":1534248,"y":388.3},{"x":1534261,"y":387.3},{"x":1534276,"y":386},{"x":1534289,"y":385},{"x":1534304,"y":383.7},{"x":1534317,"y":382.7},{"x":1534335,"y":382.7}
 ]},
 "mark": {"type": "area", "color": "#FF0000", "interpolate": "step-after"},
 "encoding": {"y2": {"datum": 390}}
},
{
 "data": {"values": [
  {"x":1533751,"x2":1533834,"y":258.5,"y2":268.5,"k":"feat"},
  {"x":1533849,"x2":1534285,"y":258.5,"y2":268.5,"k":"feat"},
  {"x":1534638,"x2":1535911,"y":258.5,"y2":268.5,"k":"feat"},
  {"x":1535924,"x2":1536250,"y":258.5,"y2":268.5,"k":"feat"},
  {"x":1534328,"x2":1534343,"y":366,"y2":370,"k":"feat"},
  {"x":1534655,"x2":1534668,"y":366,"y2":370,"k":"feat"},
  {"x":1534508,"x2":1534523,"y":29,"y2":39,"k":"cur"}
 ]},
 "mark": {"type": "rect", "filled": false, "strokeWidth": 1},
 "encoding": {
  "x2": {"field": "x2"}, "y2": {"field": "y2"},
  "stroke": {"field": "k", "type": "nominal", "scale": {"domain": ["axis","thr","sig","term","feat","cur"], "range": ["#000000","#A46A6A","#FF0000","#2ADC2A","#FF0000","#F2C4B4"]}, "legend": null}
 }
},
{
 "data": {"values": [
  {"x":1534335,"x2":1534610,"y":258.3,"y2":268.3,"k":"S645"},
  {"x":1534653,"x2":1534752,"y":371,"y2":380,"k":"D677"},
  {"x":1533751,"x2":1536250,"y":773.3,"y2":783.3,"k":"hitA"},
  {"x":1535918,"x2":1536250,"y":1030,"y2":1041.7,"k":"hitB"}
 ]},
 "mark": {"type": "rect"},
 "encoding": {
  "x2": {"field": "x2"}, "y2": {"field": "y2"},
  "fill": {"field": "k", "type": "nominal", "scale": {"domain": ["S645","D677","hitA","hitB"], "range": ["#0099FF","#FF0000","#008C00","#0022C8"]}, "legend": null}
 }
},
{
 "data": {"values": [
  {"t":"SAOUHSC_01609","x":1533793,"y":97},
  {"t":"SAOUHSC_01610","x":1534064,"y":106},
  {"t":"SAOUHSC_01611","x":1535268,"y":118},
  {"t":"SAOUHSC_01612","x":1536081,"y":97},
  {"t":"S645","x":1534467,"y":275},
  {"t":"bmfBB","x":1535268,"y":275},
  {"t":"bfmBAB","x":1536081,"y":275},
  {"t":"+","x":1535001,"y":766},
  {"t":"+","x":1536084,"y":1023}
 ]},
 "mark": {"type": "text", "align": "center", "baseline": "middle", "font": "DejaVu Sans Mono", "fontSize": 10, "color": "#000000"},
 "encoding": {"text": {"field": "t"}}
},
{
 "data": {"values": [
  {"t":"1 533 751","x":1533751,"y":20},
  {"t":"D677","x":1534752,"y":376}
 ]},
 "mark": {"type": "text", "align": "left", "baseline": "middle", "font": "DejaVu Sans Mono", "fontSize": 10, "color": "#000000"},
 "encoding": {"text": {"field": "t"}}
},
{
 "data": {"values": [
  {"t":"1 536 250","x":1536248,"y":20},
  {"t":"U797.SigA.M3","x":1534228,"y":383}
 ]},
 "mark": {"type": "text", "align": "right", "baseline": "middle", "font": "DejaVu Sans Mono", "fontSize": 10, "color": "#000000"},
 "encoding": {"text": {"field": "t"}}
}
]
}
